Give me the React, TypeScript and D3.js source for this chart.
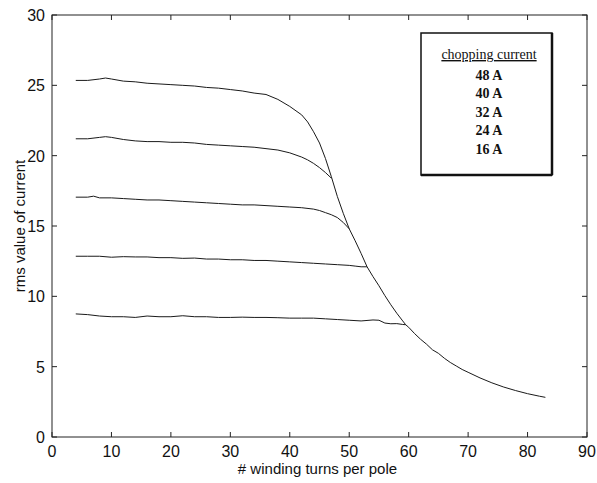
import React from "react";
import * as d3 from "d3";

// ---- data ----
const xTicks = [0, 10, 20, 30, 40, 50, 60, 70, 80, 90];
const yTicks = [0, 5, 10, 15, 20, 25, 30];

const legendTitle = "chopping current";
const seriesNames = ["48 A", "40 A", "32 A", "24 A", "16 A"];

// shared high-turn tail (all curves converge here)
const tailX = [50, 51, 52, 53, 54, 55, 56, 57, 58, 59, 59.5, 60, 61, 62, 63, 64, 65, 66, 67, 68, 69, 70, 72, 74, 76, 78, 80, 82, 83];
const tailY = [14.8, 13.95, 13.05, 12.1, 11.4, 10.75, 10.05, 9.4, 8.8, 8.25, 7.98, 7.8, 7.35, 6.95, 6.6, 6.2, 5.95, 5.6, 5.3, 5.05, 4.8, 4.6, 4.2, 3.85, 3.55, 3.3, 3.08, 2.9, 2.82];

const s48X = [4, 6, 8, 9, 10, 12, 14, 16, 18, 20, 22, 24, 26, 28, 30, 32, 34, 36, 38, 40, 42, 43, 44, 45, 46, 47, 48, 49];
const s48Y = [25.35, 25.35, 25.45, 25.52, 25.45, 25.3, 25.25, 25.15, 25.1, 25.05, 25.0, 24.95, 24.85, 24.8, 24.7, 24.6, 24.45, 24.35, 24.0, 23.5, 22.9, 22.4, 21.7, 20.9, 19.8, 18.5, 17.1, 15.9];

const s40X = [4, 6, 8, 9, 10, 12, 14, 16, 18, 20, 22, 24, 26, 28, 30, 32, 34, 36, 38, 40, 42, 43, 44, 45, 46, 47];
const s40Y = [21.2, 21.2, 21.3, 21.35, 21.3, 21.15, 21.05, 21.0, 21.0, 20.95, 20.95, 20.9, 20.8, 20.75, 20.7, 20.65, 20.6, 20.5, 20.4, 20.2, 19.9, 19.7, 19.45, 19.15, 18.8, 18.4];

const s32X = [4, 6, 7, 8, 10, 12, 14, 16, 18, 20, 22, 24, 26, 28, 30, 32, 34, 36, 38, 40, 42, 44, 45, 46, 47, 48, 49];
const s32Y = [17.05, 17.05, 17.12, 17.0, 17.0, 16.95, 16.9, 16.85, 16.85, 16.8, 16.75, 16.7, 16.65, 16.6, 16.55, 16.5, 16.5, 16.45, 16.4, 16.35, 16.3, 16.2, 16.1, 15.95, 15.8, 15.6, 15.25];

const s24X = [4, 6, 8, 10, 12, 14, 16, 18, 20, 22, 24, 26, 28, 30, 32, 34, 36, 38, 40, 42, 44, 46, 48, 50, 51, 52];
const s24Y = [12.85, 12.85, 12.85, 12.78, 12.82, 12.8, 12.8, 12.75, 12.75, 12.7, 12.72, 12.65, 12.65, 12.6, 12.6, 12.55, 12.55, 12.5, 12.45, 12.4, 12.35, 12.3, 12.25, 12.2, 12.15, 12.1];

const s16X = [4, 6, 8, 10, 12, 14, 16, 18, 20, 22, 24, 26, 28, 30, 32, 34, 36, 38, 40, 42, 44, 46, 48, 50, 52, 54, 55, 56, 57, 58, 59];
const s16Y = [8.75, 8.7, 8.6, 8.55, 8.55, 8.5, 8.6, 8.55, 8.55, 8.62, 8.55, 8.55, 8.5, 8.5, 8.52, 8.5, 8.5, 8.48, 8.45, 8.45, 8.45, 8.4, 8.35, 8.3, 8.25, 8.32, 8.3, 8.1, 8.05, 8.06, 8.0];

// ---- layout ----
const W = 597;
const H = 483;
const left = 52, right = 587, top = 15, bottom = 437;

export default function App() {
  const x = d3.scaleLinear().domain([0, 90]).range([left, right]);
  const y = d3.scaleLinear().domain([0, 30]).range([bottom, top]);

  const zip = (xs: number[], ys: number[]) => xs.map((v, i) => [v, ys[i]] as [number, number]);
  const withTail = (xs: number[], ys: number[]) => {
    const pts = zip(xs, ys);
    const lastX = xs[xs.length - 1];
    return pts.concat(zip(tailX, tailY).filter((p) => p[0] > lastX));
  };

  const series = [
    withTail(s48X, s48Y),
    zip(s40X, s40Y),
    zip(s32X, s32Y).concat([[50, 14.8]]),
    zip(s24X, s24Y).concat([[53, 12.1]]),
    zip(s16X, s16Y).concat([[59.5, 7.98]]),
  ];

  const line = d3
    .line<[number, number]>()
    .x((d) => x(d[0]))
    .y((d) => y(d[1]))
    .curve(d3.curveLinear);

  const tickLen = 5;
  const sans = "'Liberation Sans', Arial, Helvetica, sans-serif";
  const serif = "'Liberation Serif', 'Times New Roman', serif";

  const legendCx = 489;
  const legendTop = 33;

  return (
    <svg width={W} height={H} style={{ position: "absolute", left: 0, top: 0, background: "#fff" }}>
      <rect x={0} y={0} width={W} height={H} fill="#fff" />
      {/* frame */}
      <rect x={left} y={top} width={right - left} height={bottom - top} fill="none" stroke="#222" strokeWidth={1} />
      {/* x ticks */}
      {xTicks.map((t) => (
        <g key={"xt" + t}>
          <line x1={x(t)} x2={x(t)} y1={bottom} y2={bottom - tickLen} stroke="#222" />
          <line x1={x(t)} x2={x(t)} y1={top} y2={top + tickLen} stroke="#222" />
          <text x={x(t)} y={457} textAnchor="middle" fontFamily={sans} fontSize={16} fill="#111">
            {t}
          </text>
        </g>
      ))}
      {/* y ticks */}
      {yTicks.map((t) => (
        <g key={"yt" + t}>
          <line x1={left} x2={left + tickLen} y1={y(t)} y2={y(t)} stroke="#222" />
          <line x1={right} x2={right - tickLen} y1={y(t)} y2={y(t)} stroke="#222" />
          <text x={45} y={y(t) + 6} textAnchor="end" fontFamily={sans} fontSize={16} fill="#111">
            {t}
          </text>
        </g>
      ))}
      {/* axis titles */}
      <text x={(left + right) / 2 - 2} y={474} textAnchor="middle" fontFamily={sans} fontSize={15} fill="#111">
        # winding turns per pole
      </text>
      <text
        transform={`translate(25, ${(top + bottom) / 2}) rotate(-90)`}
        textAnchor="middle"
        fontFamily={sans}
        fontSize={15}
        fill="#111"
      >
        rms value of current
      </text>
      {/* curves */}
      {series.map((pts, i) => (
        <path key={"s" + i} d={line(pts) || ""} fill="none" stroke="#1a1a1a" strokeWidth={1} />
      ))}
      {/* legend */}
      <rect x={421} y={legendTop} width={131} height={142} fill="#fff" stroke="#111" strokeWidth={1.5} />
      <line x1={552} x2={552} y1={legendTop} y2={legendTop + 142} stroke="#111" strokeWidth={2.5} />
      <line x1={421} x2={552} y1={legendTop + 142} y2={legendTop + 142} stroke="#111" strokeWidth={2.5} />
      <text x={legendCx} y={59} textAnchor="middle" fontFamily={serif} fontSize={14} fill="#111" textDecoration="underline">
        {legendTitle}
      </text>
      {seriesNames.map((n, i) => (
        <text
          key={n}
          x={legendCx}
          y={80 + i * 18.4}
          textAnchor="middle"
          fontFamily={serif}
          fontSize={14}
          fontWeight="bold"
          fill="#111"
        >
          {n}
        </text>
      ))}
    </svg>
  );
}
